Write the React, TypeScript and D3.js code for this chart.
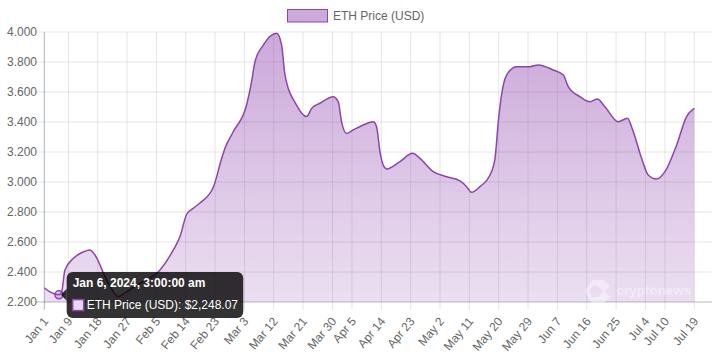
import React from "react";
import * as d3 from "d3";

const seriesName = "ETH Price (USD)";
const dates = [
  "2024-01-01T15:00", "2024-01-03T09:00", "2024-01-06T03:00", "2024-01-06T23:00", "2024-01-07T23:00",
  "2024-01-10T13:00", "2024-01-13T04:00", "2024-01-15T15:00", "2024-01-17T04:00", "2024-01-20T18:00",
  "2024-01-24T08:00", "2024-01-26T22:00", "2024-01-31T00:00", "2024-02-06T03:00", "2024-02-10T05:00",
  "2024-02-12T06:00", "2024-02-14T07:00", "2024-02-16T08:00", "2024-02-18T09:00", "2024-02-22T11:00",
  "2024-02-25T01:00", "2024-02-26T01:00", "2024-02-28T14:00", "2024-03-03T16:00", "2024-03-05T05:00",
  "2024-03-06T06:00", "2024-03-08T19:00", "2024-03-12T21:00", "2024-03-14T10:00", "2024-03-15T11:00",
  "2024-03-19T00:00", "2024-03-22T02:00", "2024-03-23T15:00", "2024-03-26T04:00", "2024-03-30T06:00",
  "2024-03-31T19:00", "2024-04-01T19:00", "2024-04-03T08:00", "2024-04-05T09:00", "2024-04-08T11:00",
  "2024-04-11T13:00", "2024-04-12T13:00", "2024-04-13T14:00", "2024-04-14T14:00", "2024-04-15T15:00",
  "2024-04-19T17:00", "2024-04-23T14:00", "2024-04-25T20:00", "2024-04-29T22:00", "2024-05-04T00:00",
  "2024-05-08T03:00", "2024-05-10T04:00", "2024-05-11T16:00", "2024-05-14T06:00", "2024-05-17T08:00",
  "2024-05-18T21:00", "2024-05-19T21:00", "2024-05-20T21:00", "2024-05-22T10:00", "2024-05-25T12:00",
  "2024-05-29T14:00", "2024-06-01T03:00", "2024-06-05T18:00", "2024-06-08T20:00", "2024-06-10T08:00",
  "2024-06-13T22:00", "2024-06-17T00:00", "2024-06-19T06:00", "2024-06-21T14:00", "2024-06-25T16:00",
  "2024-06-28T11:00", "2024-06-30T07:00", "2024-07-02T20:00", "2024-07-04T21:00", "2024-07-07T10:00",
  "2024-07-10T00:00", "2024-07-13T14:00", "2024-07-16T15:00", "2024-07-19T00:00",
];
const prices = [
  2295, 2267, 2248.07, 2269, 2413,
  2491, 2530, 2547, 2513, 2347,
  2236, 2269, 2325, 2413, 2547,
  2636, 2785, 2825, 2860, 2965,
  3158, 3225, 3335, 3513, 3669,
  3802, 3913, 3991, 3913, 3713,
  3513, 3436, 3491, 3525, 3569,
  3535, 3402, 3324, 3347, 3380,
  3402, 3369, 3202, 3113, 3087,
  3136, 3191, 3158, 3069, 3035,
  3007, 2969, 2931, 2969, 3047,
  3158, 3402, 3580, 3713, 3769,
  3769, 3780, 3747, 3713, 3636,
  3569, 3535, 3553, 3502, 3402,
  3425, 3335, 3158, 3047, 3020,
  3069, 3247, 3436, 3491,
];
const xTickDates = [
  "2024-01-01T15:00", "2024-01-09T00:00", "2024-01-18T00:00", "2024-01-27T00:00", "2024-02-05T00:00",
  "2024-02-14T00:00", "2024-02-23T00:00", "2024-03-03T00:00", "2024-03-12T00:00", "2024-03-21T00:00",
  "2024-03-30T00:00", "2024-04-05T00:00", "2024-04-14T00:00", "2024-04-23T00:00", "2024-05-02T00:00",
  "2024-05-11T00:00", "2024-05-20T00:00", "2024-05-29T00:00", "2024-06-07T00:00", "2024-06-16T00:00",
  "2024-06-25T00:00", "2024-07-04T00:00", "2024-07-10T00:00", "2024-07-19T00:00",
];
const xTickLabels = [
  "Jan 1", "Jan 9", "Jan 18", "Jan 27", "Feb 5", "Feb 14", "Feb 23", "Mar 3", "Mar 12", "Mar 21",
  "Mar 30", "Apr 5", "Apr 14", "Apr 23", "May 2", "May 11", "May 20", "May 29", "Jun 7", "Jun 16",
  "Jun 25", "Jul 4", "Jul 10", "Jul 19",
];
const yTicks = [2200, 2400, 2600, 2800, 3000, 3200, 3400, 3600, 3800, 4000];
const hoverIndex = 2;
const tooltipTitle = "Jan 6, 2024, 3:00:00 am";

const W = 712;
const H = 356;
const left = 44.3;
const right = 694.3;
const gridRight = 712;
const top = 32;
const bottom = 302;
const FONT = "'Liberation Sans', Arial, Helvetica, sans-serif";
const LINE = "#8e44ad";

const parse = (s: string) => new Date(s);

export default function App() {
  const data = dates.map((d, i) => ({ date: parse(d), value: prices[i] }));
  const x = d3.scaleTime().domain([parse(dates[0]), parse(dates[dates.length - 1])]).range([left, right]);
  const y = d3.scaleLinear().domain([2200, 4000]).range([bottom, top]);
  const locale = d3.formatLocale({ decimal: ",", thousands: ".", grouping: [3], currency: ["", ""] });
  const fmtY = locale.format(",.0f");
  const fmtUsd = d3.format(",.2f");

  const area = d3
    .area<{ date: Date; value: number }>()
    .x((d) => x(d.date))
    .y0(bottom)
    .y1((d) => y(d.value))
    .curve(d3.curveMonotoneX);
  const line = d3
    .line<{ date: Date; value: number }>()
    .x((d) => x(d.date))
    .y((d) => y(d.value))
    .curve(d3.curveMonotoneX);

  const hp = data[hoverIndex];
  const hx = x(hp.date);
  const hy = y(hp.value);
  const tipX = hx + 7.7;
  const tipY = hy - 22.7;
  const tipW = 176.6;
  const tipH = 46;

  return (
    <svg width={W} height={H} style={{ position: "absolute", left: 0, top: 0, fontFamily: FONT }}>
      <defs>
        <linearGradient id="fillGrad" gradientUnits="userSpaceOnUse" x1={0} y1={top} x2={0} y2={bottom}>
          <stop offset="0%" stopColor="rgb(142,68,173)" stopOpacity={0.46} />
          <stop offset="100%" stopColor="rgb(142,68,173)" stopOpacity={0.17} />
        </linearGradient>
      </defs>
      <rect width={W} height={H} fill="#fff" />

      {yTicks.map((t) => (
        <line key={"h" + t} x1={left - 8} x2={gridRight} y1={y(t)} y2={y(t)} stroke="rgba(0,0,0,0.1)" strokeWidth={1} />
      ))}
      {xTickDates.map((t, i) => (
        <line key={"v" + i} x1={x(parse(t))} x2={x(parse(t))} y1={top} y2={bottom + 8} stroke="rgba(0,0,0,0.1)" strokeWidth={1} />
      ))}
      <line x1={left} x2={left} y1={top} y2={bottom + 8} stroke="rgba(0,0,0,0.22)" strokeWidth={1} />
      <line x1={left - 8} x2={gridRight} y1={bottom} y2={bottom} stroke="rgba(0,0,0,0.18)" strokeWidth={1} />

      {yTicks.map((t) => (
        <text key={"yl" + t} x={37} y={y(t)} dy="0.35em" textAnchor="end" fontSize={12} fill="#666">
          {fmtY(t)}
        </text>
      ))}
      {xTickDates.map((t, i) => (
        <text
          key={"xl" + i}
          transform={`translate(${x(parse(t)) + 1.5},${bottom + 17}) rotate(-50)`}
          dy="0.35em"
          textAnchor="end"
          fontSize={12}
          fill="#666"
        >
          {xTickLabels[i]}
        </text>
      ))}

      <path d={area(data) || ""} fill="url(#fillGrad)" />
      <path d={line(data) || ""} fill="none" stroke={LINE} strokeWidth={1.5} />

      <g opacity={0.4} fill="#fff">
        <path d="M592,280 L604,280 L610,286 L604,292 L598,286 L592,286 L589,291.5 L592,297 L598,297 L604,291 L610,297 L604,303 L592,303 L585,291.5 Z" />
        <text x={616.5} y={294.5} fontSize={13.5} fontWeight="bold">cryptonews</text>
      </g>

      <rect x={287.5} y={9.5} width={40} height={12.5} fill="rgba(142,68,173,0.45)" stroke={LINE} strokeWidth={1} />
      <text x={333} y={20} fontSize={12} fill="#666">{seriesName}</text>

      <circle cx={hx} cy={hy} r={4} fill="rgba(142,68,173,0.25)" stroke={LINE} strokeWidth={1.5} />

      <g>
        <path d={`M${tipX},${hy - 6} L${hx + 2},${hy} L${tipX},${hy + 6} Z`} fill="rgba(0,0,0,0.8)" />
        <rect x={tipX} y={tipY} width={tipW} height={tipH} rx={6} fill="rgba(0,0,0,0.8)" />
        <text x={tipX + 6} y={tipY + 15} fontSize={12} fontWeight="bold" fill="#fff">
          {tooltipTitle}
        </text>
        <rect x={tipX + 6} y={tipY + 27.5} width={11} height={11} fill="#fff" />
        <rect x={tipX + 6} y={tipY + 27.5} width={11} height={11} fill="rgba(142,68,173,0.2)" stroke={LINE} strokeWidth={1.5} />
        <text x={tipX + 20} y={tipY + 37} fontSize={12} fill="#fff">
          {`${seriesName}: $${fmtUsd(hp.value)}`}
        </text>
      </g>
    </svg>
  );
}
